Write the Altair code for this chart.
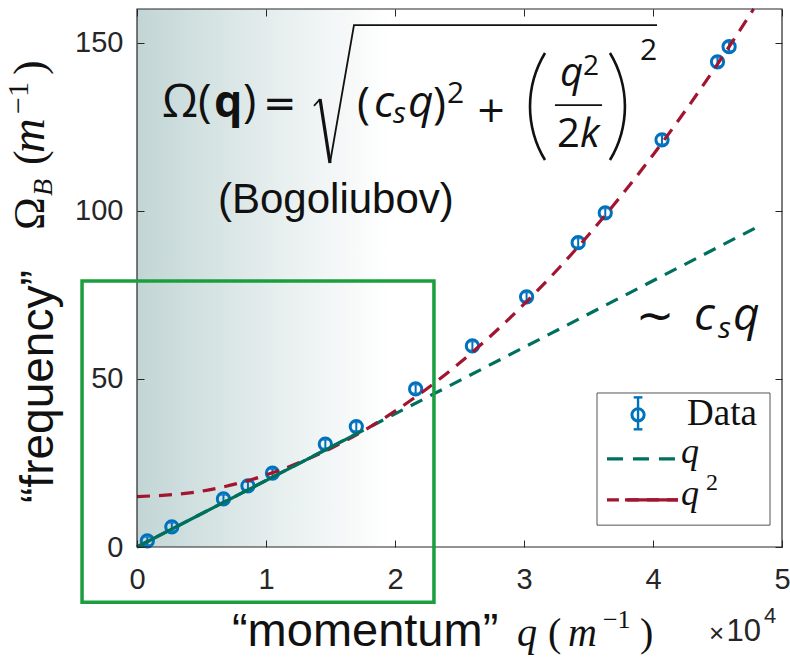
import altair as alt
import pandas as pd

# Measured Bogoliubov dispersion: q in units of 1e4 m^-1, Omega_B in m^-1
q_meas = [0.08, 0.27, 0.67, 0.86, 1.05, 1.46, 1.70, 2.16, 2.60, 3.02, 3.42, 3.63, 4.07, 4.50, 4.59]
omega_meas = [1.8, 6.0, 14.3, 18.2, 22.0, 30.6, 35.8, 47.0, 59.8, 74.4, 90.5, 99.4, 121.1, 144.3, 148.8]
omega_err = [1.2, 1.2, 1.2, 1.2, 1.2, 1.3, 1.3, 1.3, 1.3, 1.3, 1.3, 1.3, 1.3, 1.3, 1.3]

# Linear (phonon) branch ~ c_s q
q_lin = [0.0, 4.83]
omega_lin = [0.0, 95.6]
q_lin_fit = [0.0, 1.72]
omega_lin_fit = [0.0, 34.0]

# Quadratic (particle) branch ~ q^2
q_quad = [0.0, 0.5, 1.0, 1.5, 2.0, 2.5, 3.0, 3.5, 4.0, 4.5, 4.78]
omega_quad = [15.0, 16.6, 21.4, 29.3, 40.4, 54.7, 72.2, 92.8, 116.6, 143.6, 160.0]

x_ticks = [0, 1, 2, 3, 4, 5]
y_ticks = [0, 50, 100, 150]

BLUE = "#0072BD"
TEAL = "#00705E"
RED = "#A2142F"
GREEN = "#1B9E3E"
AX = "#262626"
INK = "#111111"
SANS = "Liberation Sans"
SERIF = "Liberation Serif"
MATH = "Open Sans"
SYM = "DejaVu Sans"

XS = alt.Scale(domain=[0, 5], nice=False, zero=False)
YS = alt.Scale(domain=[0, 160], nice=False, zero=False)


def X(field, axis=None):
    return alt.X(field, type="quantitative", scale=XS, axis=axis)


def Y(field, axis=None):
    return alt.Y(field, type="quantitative", scale=YS, axis=axis)


axis_style = dict(
    grid=False, domain=False, tickColor=AX, tickWidth=1, tickSize=7, offset=-7,
    labelFont=SANS, labelFontSize=29, labelColor=AX, labelFlush=False,
    labelOverlap=False, title=None, zindex=1,
)
ax_bottom = alt.Axis(orient="bottom", values=x_ticks, labelPadding=18, format="d", **axis_style)
ax_left = alt.Axis(orient="left", values=y_ticks, labelPadding=14, format="d", **axis_style)
ax_top = alt.Axis(orient="top", values=x_ticks, labels=False, **axis_style)
ax_right = alt.Axis(orient="right", values=y_ticks, labels=False, **axis_style)

meas = pd.DataFrame({
    "q": q_meas,
    "w": omega_meas,
    "lo": [w - e for w, e in zip(omega_meas, omega_err)],
    "hi": [w + e for w, e in zip(omega_meas, omega_err)],
})
lin = pd.DataFrame({"q": q_lin, "w": omega_lin})
lin_fit = pd.DataFrame({"q": q_lin_fit, "w": omega_lin_fit})
quad = pd.DataFrame({"q": q_quad, "w": omega_quad})

# shaded low-momentum region
shade = alt.Chart(pd.DataFrame({"q0": [0.0], "q1": [1.95], "v0": [0.0], "v1": [160.0]})).mark_rect(
    color=alt.Gradient(
        gradient="linear", x1=0, x2=1, y1=0, y2=0,
        stops=[
            alt.GradientStop(color="#c2d5d5", offset=0),
            alt.GradientStop(color="#d6e3e3", offset=0.3),
            alt.GradientStop(color="#e9f0f0", offset=0.6),
            alt.GradientStop(color="#f7f9f9", offset=0.85),
            alt.GradientStop(color="#ffffff", offset=1),
        ],
    )
).encode(x=X("q0", ax_bottom), x2="q1", y=Y("v0", ax_left), y2="v1")

# mirrored tick marks on the top and right edges
mirror = alt.Chart(pd.DataFrame({"q": [0.0], "v": [0.0]})).mark_point(opacity=0).encode(
    x=X("q", ax_top), y=Y("v", ax_right)
)

err_rule = alt.Chart(meas).mark_rule(color=BLUE, strokeWidth=2).encode(x=X("q"), y=Y("lo"), y2="hi")
err_lo = alt.Chart(meas).mark_tick(color=BLUE, orient="horizontal", size=8, thickness=2).encode(x=X("q"), y=Y("lo"))
err_hi = alt.Chart(meas).mark_tick(color=BLUE, orient="horizontal", size=8, thickness=2).encode(x=X("q"), y=Y("hi"))
points = alt.Chart(meas).mark_point(shape="circle", filled=False, size=150, strokeWidth=3, color=BLUE, opacity=1).encode(
    x=X("q"), y=Y("w")
)

lin_dash = alt.Chart(lin).mark_line(color=TEAL, strokeWidth=3.2, strokeDash=[13, 9]).encode(x=X("q"), y=Y("w"))
lin_solid = alt.Chart(lin_fit).mark_line(color=TEAL, strokeWidth=3.2).encode(x=X("q"), y=Y("w"))
quad_dash = alt.Chart(quad).mark_line(color=RED, strokeWidth=3.2, strokeDash=[13, 9], interpolate="monotone").encode(
    x=X("q"), y=Y("w")
)

frame = alt.Chart(pd.DataFrame({"q0": [0.0], "q1": [5.0], "v0": [0.0], "v1": [160.0]})).mark_rect(
    fillOpacity=0, stroke=AX, strokeWidth=1.2
).encode(x=X("q0"), x2="q1", y=Y("v0"), y2="v1")


def label(text, q, v, size, font=SANS, style="normal", weight="normal", angle=0,
          align="left", baseline="alphabetic", color=INK):
    return alt.Chart(pd.DataFrame({"q": [q], "v": [v], "t": [text]})).mark_text(
        font=font, fontSize=size, fontStyle=style, fontWeight=weight, angle=angle,
        align=align, baseline=baseline, color=color,
    ).encode(x=X("q"), y=Y("v"), text="t:N")


def path(qs, vs, color, width, dash=None):
    kw = dict(color=color, strokeWidth=width)
    if dash:
        kw["strokeDash"] = dash
    df = pd.DataFrame({"q": qs, "v": vs, "i": list(range(len(qs)))})
    return alt.Chart(df).mark_line(**kw).encode(x=X("q"), y=Y("v"), order="i:O")


def paren(q, v, t0, t1, r):
    return alt.Chart(pd.DataFrame({"q": [q], "v": [v]})).mark_arc(
        theta=t0, theta2=t1, innerRadius=r - 1.3, outerRadius=r + 1.3, color=INK
    ).encode(x=X("q"), y=Y("v"))


formula = [
    label("Ω(", 0.194, 127.9, 46, MATH),
    label("q", 0.596, 127.9, 45, MATH, weight="bold"),
    label(")", 0.822, 127.9, 45, MATH),
    label("=", 0.977, 127.9, 40, SYM),
    path([1.372, 1.419], [131.2, 133.2], INK, 1.6),
    path([1.419, 1.496], [133.2, 114.2], INK, 3.2),
    path([1.496, 1.682, 4.031], [114.2, 155.2, 155.2], INK, 1.8),
    label("(", 1.705, 127.6, 44, MATH),
    label("c", 1.837, 127.9, 44, MATH, style="italic"),
    label("s", 1.984, 126.1, 30, MATH, style="italic"),
    label("q", 2.101, 127.9, 44, MATH, style="italic"),
    label(")", 2.295, 127.6, 44, MATH),
    label("2", 2.403, 132.0, 30, MATH),
    label("+", 2.628, 126.4, 36, SYM),
    paren(3.845, 131.0, 4.166, 5.259, 103),
    paren(2.984, 131.0, 1.025, 2.117, 103),
    label("q", 3.279, 137.1, 40, MATH, style="italic"),
    label("2", 3.457, 140.4, 28, MATH),
    path([3.240, 3.605], [131.4, 131.4], INK, 1.8),
    label("2", 3.256, 119.0, 40, MATH),
    label("k", 3.434, 119.0, 40, MATH, style="italic"),
    label("2", 3.899, 144.8, 30, MATH),
    label("(Bogoliubov)", 0.628, 99.3, 42, SANS),
    label("∼", 4.016, 68.4, 46, SYM, align="center", baseline="middle"),
    label("c", 4.318, 64.5, 46, MATH, style="italic"),
    label("s", 4.504, 62.3, 30, MATH, style="italic"),
    label("q", 4.620, 64.5, 46, MATH, style="italic"),
]

titles = [
    label("“frequency”", -0.651, 13.1, 46, SANS, angle=270),
    label("Ω", -0.721, 94.3, 44, SERIF, angle=270),
    label("B", -0.659, 104.4, 28, SERIF, style="italic", angle=270),
    label("(", -0.721, 113.6, 44, SERIF, angle=270),
    label("m", -0.721, 117.2, 48, SERIF, style="italic", angle=270),
    label("−1", -0.845, 128.8, 30, SERIF, angle=270),
    label(")", -0.721, 140.4, 44, SERIF, angle=270),
    label("“momentum”", 0.736, -29.4, 47, SANS),
    label("q", 2.946, -29.4, 40, SERIF, style="italic"),
    label("(", 3.186, -29.4, 40, SERIF),
    label("m", 3.341, -29.4, 40, SERIF, style="italic"),
    label("−1", 3.612, -24.1, 26, SERIF),
    label(")", 3.899, -29.4, 40, SERIF),
    label("×", 4.434, -28.4, 26, SANS, color=AX),
    label("10", 4.570, -28.0, 31, SANS, color=AX),
    label("4", 4.860, -22.6, 22, SANS, color=AX),
]

# legend
legend_box = alt.Chart(pd.DataFrame({"q0": [3.566], "q1": [4.907], "v0": [6.5], "v1": [45.8]})).mark_rect(
    fill="white", stroke="#555555", strokeWidth=1
).encode(x=X("q0"), x2="q1", y=Y("v0"), y2="v1")
legend = [
    legend_box,
    path([3.884, 3.884], [35.0, 44.5], BLUE, 2.4),
    path([3.850, 3.918], [35.0, 35.0], BLUE, 2.4),
    path([3.850, 3.918], [44.5, 44.5], BLUE, 2.4),
    alt.Chart(pd.DataFrame({"q": [3.884], "v": [39.3]})).mark_point(
        shape="circle", filled=False, size=150, strokeWidth=3, color=BLUE, opacity=1
    ).encode(x=X("q"), y=Y("v")),
    label("Data", 4.264, 36.3, 37, SERIF),
    path([3.643, 4.194], [26.2, 26.2], TEAL, 3.2, [16, 10]),
    label("q", 4.217, 25.0, 36, SERIF, style="italic"),
    path([3.643, 4.194], [14.0, 14.0], RED, 3.2, [12, 8]),
    path([3.783, 4.194], [14.0, 14.0], RED, 3.2),
    label("q", 4.217, 12.5, 36, SERIF, style="italic"),
    label("2", 4.411, 17.0, 24, SERIF),
]

box = alt.Chart(pd.DataFrame({"q0": [-0.426], "q1": [2.302], "v0": [-16.4], "v1": [79.1]})).mark_rect(
    fillOpacity=0, stroke=GREEN, strokeWidth=3.5
).encode(x=X("q0"), x2="q1", y=Y("v0"), y2="v1")

chart = alt.layer(
    shade, mirror, points, err_rule, err_lo, err_hi,
    lin_dash, quad_dash, lin_solid,
    frame, *formula, *titles, *legend, box,
).resolve_axis(x="independent", y="independent").properties(
    width=645, height=538,
    autosize=alt.AutoSizeParams(type="none"),
    padding={"left": 137, "top": 9, "right": 8, "bottom": 110},
).configure_view(stroke=None)

chart.save("out.html", embed_options={"renderer": "svg", "actions": False})
